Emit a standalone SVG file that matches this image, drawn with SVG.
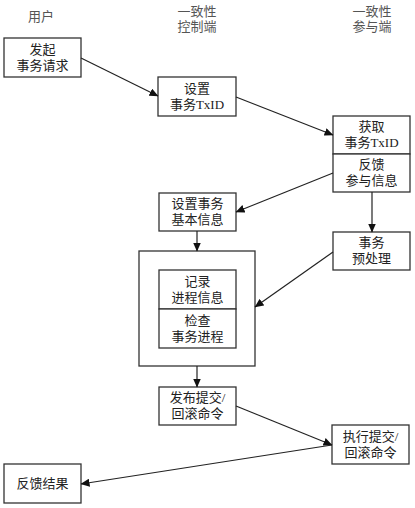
<svg xmlns="http://www.w3.org/2000/svg" width="415" height="508" viewBox="0 0 415 508">
<style>
.box{fill:#fff;stroke:#333;stroke-width:1.3}
.t{font-family:"Liberation Serif","Noto Sans CJK SC",serif;font-size:13px;fill:#222;text-anchor:middle}
.h{font-family:"Liberation Serif","Noto Sans CJK SC",serif;font-size:13px;fill:#555;text-anchor:middle}
.c{stroke:#222;stroke-width:1.2;fill:none;marker-end:url(#a)}
</style>
<defs>
<marker id="a" markerWidth="9" markerHeight="8" refX="8.5" refY="4" orient="auto" markerUnits="userSpaceOnUse">
<path d="M0,0 L9,4 L0,8 Z" fill="#111"/>
</marker>
</defs>
<rect width="415" height="508" fill="#fff"/>
<g id="headers">
<text class="h" x="41" y="21">用户</text>
<text class="h" x="197" y="16">一致性</text>
<text class="h" x="197" y="31">控制端</text>
<text class="h" x="372" y="16">一致性</text>
<text class="h" x="372" y="31">参与端</text>
</g>
<g id="n1"><rect class="box" x="4" y="38" width="77" height="39"/><text class="t" x="42.5" y="54">发起</text><text class="t" x="42.5" y="70">事务请求</text></g>
<g id="n2"><rect class="box" x="158" y="77" width="78" height="39"/><text class="t" x="197" y="93">设置</text><text class="t" x="197" y="109">事务TxID</text></g>
<g id="n3"><rect class="box" x="333" y="116" width="77" height="38"/><text class="t" x="371.5" y="131">获取</text><text class="t" x="371.5" y="147">事务TxID</text></g>
<g id="n4"><rect class="box" x="333" y="154" width="77" height="38"/><text class="t" x="371.5" y="169">反馈</text><text class="t" x="371.5" y="185">参与信息</text></g>
<g id="n5"><rect class="box" x="159" y="193" width="77" height="38"/><text class="t" x="197.5" y="208">设置事务</text><text class="t" x="197.5" y="224">基本信息</text></g>
<g id="n6"><rect class="box" x="333" y="232" width="77" height="38"/><text class="t" x="371.5" y="247">事务</text><text class="t" x="371.5" y="263">预处理</text></g>
<g id="n7"><rect class="box" x="139" y="251" width="116" height="115"/></g>
<g id="n8"><rect class="box" x="159" y="270" width="77" height="39"/><text class="t" x="197.5" y="286">记录</text><text class="t" x="197.5" y="302">进程信息</text></g>
<g id="n9"><rect class="box" x="159" y="309" width="77" height="39"/><text class="t" x="197.5" y="325">检查</text><text class="t" x="197.5" y="341">事务进程</text></g>
<g id="n10"><rect class="box" x="159" y="387" width="77" height="38"/><text class="t" x="197.5" y="402">发布提交/</text><text class="t" x="197.5" y="418">回滚命令</text></g>
<g id="n11"><rect class="box" x="332" y="425" width="77" height="39"/><text class="t" x="370.5" y="441">执行提交/</text><text class="t" x="370.5" y="457">回滚命令</text></g>
<g id="n12"><rect class="box" x="4" y="464" width="77" height="39"/><text class="t" x="42.5" y="488">反馈结果</text></g>
<g id="connectors">
<line class="c" x1="81" y1="58" x2="158" y2="96"/>
<line class="c" x1="236" y1="97" x2="333" y2="135"/>
<line class="c" x1="333" y1="173" x2="236" y2="212"/>
<line class="c" x1="372" y1="192" x2="372" y2="232"/>
<line class="c" x1="197" y1="231" x2="197" y2="251"/>
<line class="c" x1="333" y1="252" x2="255" y2="307"/>
<line class="c" x1="197" y1="366" x2="197" y2="387"/>
<line class="c" x1="236" y1="406" x2="332" y2="445"/>
<line class="c" x1="332" y1="445" x2="81" y2="484"/>
</g>
</svg>
